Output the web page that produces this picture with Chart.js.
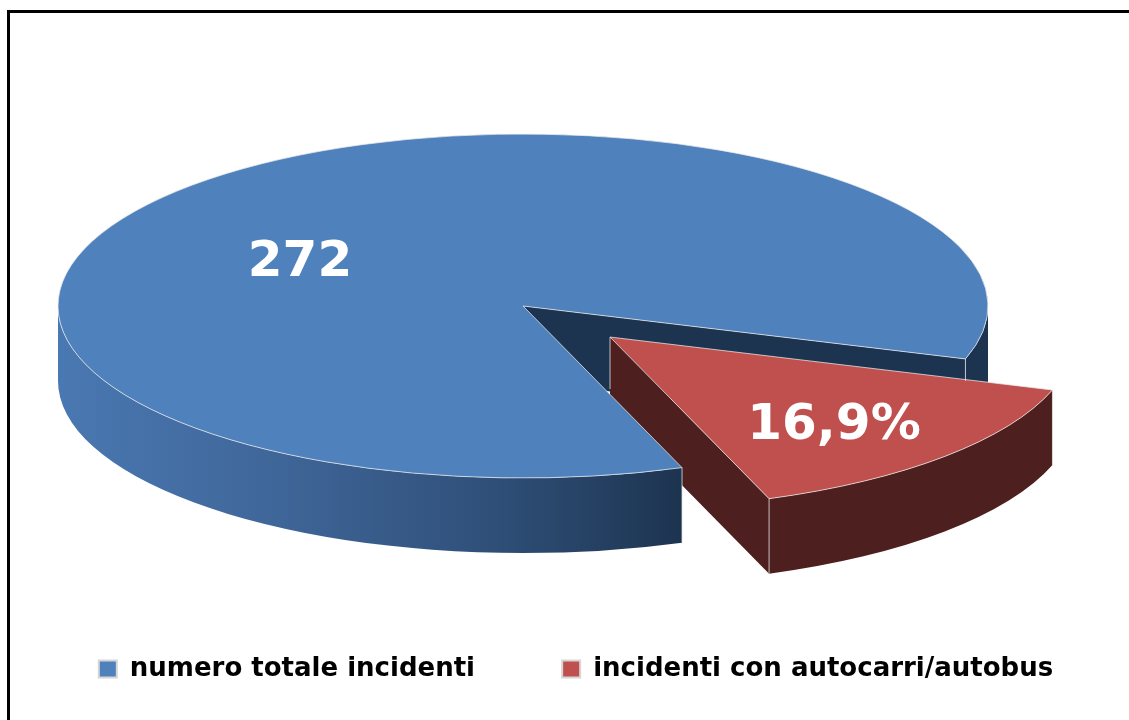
<!DOCTYPE html>
<html lang="it">
<head>
<meta charset="utf-8">
<title>Incidenti</title>
<script src="https://cdn.jsdelivr.net/npm/chart.js@4"></script>
<style>
  html, body { margin: 0; padding: 0; background: #fff; overflow: hidden; }
  #wrap { position: relative; width: 1129px; height: 720px; }
  #frame { position: absolute; left: 7px; top: 10px; right: 0; bottom: 0; border-top: 3px solid #000; border-left: 3px solid #000; pointer-events: none; }
</style>
</head>
<body>
<div id="wrap">
  <canvas id="pie" width="1129" height="720"></canvas>
  <div id="frame"></div>
</div>
<script>
// Chart data
const categories = ['numero totale incidenti', 'incidenti con autocarri/autobus'];
const values = [272, 46];
const sliceLabels = ['272', '16,9%'];
const sliceColors = ['#4f81bd', '#c0504d'];

// Look of the tilted disc
const disc = { cx: 523, cy: 306, rx: 465, ry: 172, depth: 75, explode: 0.26 };
const labelSpots = [[300, 263], [834, 426]];
const rim = 'rgba(235,235,235,0.75)';

// Where a point of an arc lands on the tilted disc
function tilt(chart, arc, angle, drop){
  let base = chart.getDatasetMeta(0).data[0];
  let sx = disc.rx / arc.outerRadius;
  let sy = disc.ry / arc.outerRadius;
  return {
    x: disc.cx + (arc.x - base.x) * sx + Math.cos(angle) * disc.rx,
    y: disc.cy + (arc.y - base.y) * sy + Math.sin(angle) * disc.ry + (drop || 0)
  };
}

function arcCentre(chart, arc){
  let base = chart.getDatasetMeta(0).data[0];
  return {
    x: disc.cx + (arc.x - base.x) * disc.rx / arc.outerRadius,
    y: disc.cy + (arc.y - base.y) * disc.ry / arc.outerRadius
  };
}

// Outer wall between two angles
function outerWall(ctx, chart, arc, from, to, fill){
  let c = arcCentre(chart, arc);
  ctx.beginPath();
  ctx.ellipse(c.x, c.y, disc.rx, disc.ry, 0, from, to);
  ctx.ellipse(c.x, c.y + disc.depth, disc.rx, disc.ry, 0, to, from, true);
  ctx.closePath();
  ctx.fillStyle = fill;
  ctx.fill();
}

// Flat wall from the centre of a slice out to the rim
function cutWall(ctx, chart, arc, angle, fill){
  let c = arcCentre(chart, arc);
  let p = tilt(chart, arc, angle);
  ctx.beginPath();
  ctx.moveTo(c.x, c.y);
  ctx.lineTo(p.x, p.y);
  ctx.lineTo(p.x, p.y + disc.depth);
  ctx.lineTo(c.x, c.y + disc.depth);
  ctx.closePath();
  ctx.fillStyle = fill;
  ctx.fill();
}

function edge(ctx, x, y1, y2){
  ctx.beginPath();
  ctx.moveTo(x, y1);
  ctx.lineTo(x, y2);
  ctx.stroke();
}

const tiltedPie = {
  id: 'tiltedPie',
  // Move the second slice out of the pie
  afterDatasetsUpdate(chart){
    let arc = chart.getDatasetMeta(0).data[1];
    let mid = (arc.startAngle + arc.endAngle) / 2;
    arc.x += Math.cos(mid) * arc.outerRadius * disc.explode;
    arc.y += Math.sin(mid) * arc.outerRadius * disc.explode;
  },
  // Walls first, then squash the canvas for the slices themselves
  beforeDatasetsDraw(chart){
    let ctx = chart.ctx;
    let blue = chart.getDatasetMeta(0).data[0];
    let red = chart.getDatasetMeta(0).data[1];

    outerWall(ctx, chart, blue, 2 * Math.PI, blue.endAngle, '#1d3450');
    cutWall(ctx, chart, blue, blue.endAngle, '#1d3450');

    cutWall(ctx, chart, red, red.endAngle, '#4d1f1e');
    outerWall(ctx, chart, red, red.startAngle, red.endAngle, '#4d1f1e');

    let grad = ctx.createLinearGradient(disc.cx - disc.rx, 0, tilt(chart, blue, blue.startAngle).x, 0);
    grad.addColorStop(0, '#4a78b2');
    grad.addColorStop(0.35, '#3f6699');
    grad.addColorStop(0.7, '#2f4f78');
    grad.addColorStop(1, '#1d3450');
    outerWall(ctx, chart, blue, blue.startAngle, Math.PI, grad);

    ctx.save();
    ctx.translate(disc.cx, disc.cy);
    ctx.scale(disc.rx / blue.outerRadius, disc.ry / blue.outerRadius);
    ctx.translate(-blue.x, -blue.y);
  },
  afterDatasetsDraw(chart){
    let ctx = chart.ctx;
    ctx.restore();

    let arcs = chart.getDatasetMeta(0).data;
    ctx.save();
    ctx.strokeStyle = rim;
    ctx.lineWidth = 1;
    arcs.forEach(arc => {
      let c = arcCentre(chart, arc);
      ctx.beginPath();
      ctx.moveTo(c.x, c.y);
      ctx.ellipse(c.x, c.y, disc.rx, disc.ry, 0, arc.startAngle, arc.endAngle);
      ctx.closePath();
      ctx.stroke();
    });

    // Corners of the walls
    let blueEnd = tilt(chart, arcs[0], arcs[0].endAngle);
    let blueStart = tilt(chart, arcs[0], arcs[0].startAngle);
    let redTip = arcCentre(chart, arcs[1]);
    let redOut = tilt(chart, arcs[1], arcs[1].endAngle);
    let redFar = tilt(chart, arcs[1], arcs[1].startAngle);
    edge(ctx, blueEnd.x, blueEnd.y, blueEnd.y + 22);
    edge(ctx, blueStart.x, blueStart.y, blueStart.y + disc.depth);
    edge(ctx, redTip.x, redTip.y, redTip.y + 52);
    edge(ctx, redOut.x, redOut.y, redOut.y + disc.depth);
    edge(ctx, redFar.x, redFar.y, redFar.y + disc.depth);

    // Slice labels
    ctx.fillStyle = '#fff';
    ctx.font = 'bold 50px "DejaVu Sans"';
    ctx.textAlign = 'center';
    ctx.textBaseline = 'middle';
    sliceLabels.forEach((txt, i) => {
      ctx.fillText(txt, labelSpots[i][0], labelSpots[i][1]);
    });
    ctx.restore();
  }
};

new Chart(document.getElementById('pie'), {
  type: 'pie',
  data: {
    labels: categories,
    datasets: [{
      data: values,
      backgroundColor: sliceColors,
      borderWidth: 0
    }]
  },
  options: {
    responsive: false,
    animation: false,
    events: [],
    rotation: 160,
    layout: { padding: { left: 23, bottom: 28 } },
    plugins: {
      tooltip: { enabled: false },
      legend: {
        position: 'bottom',
        labels: {
          color: '#000',
          font: { family: '"DejaVu Sans"', weight: 'bold', size: 26 },
          boxWidth: 18,
          boxHeight: 17,
          padding: 60,
          generateLabels(chart){
            return Chart.overrides.pie.plugins.legend.labels.generateLabels(chart).map((item, i) => {
              item.strokeStyle = '#d6d6d6';
              item.lineWidth = 2;
              // legend wraps with a big padding, so widen the gap with spaces
              if(i === 0) item.text += '\u00a0\u00a0\u00a0';
              return item;
            });
          }
        }
      }
    }
  },
  plugins: [tiltedPie]
});
</script>
</body>
</html>
